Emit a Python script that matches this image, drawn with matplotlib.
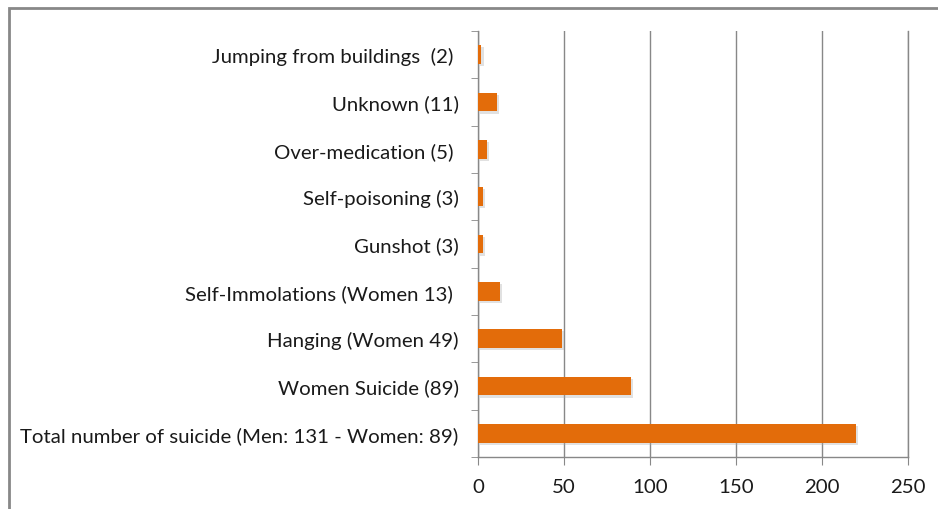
import matplotlib.pyplot as plt
import matplotlib.patheffects as pe
from matplotlib.patches import Rectangle
import numpy as np

# data, bottom to top as drawn
labels = ["Total number of suicide (Men: 131 - Women: 89)",
          "Women Suicide (89)",
          "Hanging (Women 49)",
          "Self-Immolations (Women 13) ",
          "Gunshot (3)",
          "Self-poisoning (3)",
          "Over-medication (5) ",
          "Unknown (11)",
          "Jumping from buildings  (2) "]
values = [220, 89, 49, 13, 3, 3, 5, 11, 2]
xticks = [0, 50, 100, 150, 200, 250]

plt.rcParams['font.family'] = ['Lato', 'DejaVu Sans']

fig = plt.figure(figsize=(9.38, 5.1), dpi=100)
ax = fig.add_axes([478 / 938, 1 - 458 / 510, 430 / 938, 426 / 510])

y = np.arange(len(values))
bars = ax.barh(y, values, height=0.4, color="#E36C0A", zorder=3)
for b in bars:
    b.set_path_effects([pe.SimplePatchShadow(offset=(1.5, -1.5), shadow_rgbFace="#aaaaaa", alpha=0.35),
                        pe.Normal()])

ax.set_xlim(0, 250)
ax.set_ylim(-0.5, len(values) - 0.5)
ax.set_xticks(xticks)
ax.set_yticks(y)
ax.set_yticklabels(labels)
ax.set_yticks(np.arange(-0.5, len(values)), minor=True)

ax.grid(axis="x", color="#888888", linewidth=1, zorder=0)
ax.axvline(250, color="#888888", linewidth=1, zorder=0, clip_on=False)
for s in ["top", "right"]:
    ax.spines[s].set_visible(False)
for s in ["left", "bottom"]:
    ax.spines[s].set_color("#888888")
    ax.spines[s].set_linewidth(1)

ax.tick_params(axis="y", which="major", length=0, pad=14, labelsize=14.7, labelcolor="#1a1a1a")
ax.tick_params(axis="y", which="minor", length=5, color="#888888")
ax.tick_params(axis="x", length=6, color="#888888", pad=9, labelsize=14.7, labelcolor="#1a1a1a")

# outer chart border
fig.patches.append(Rectangle((8.5 / 938, -0.1), 1.2, 1 - 8.5 / 510 + 0.1,
                             transform=fig.transFigure, fill=False,
                             edgecolor="#888888", linewidth=2))

fig.savefig("out.png", dpi=100)
